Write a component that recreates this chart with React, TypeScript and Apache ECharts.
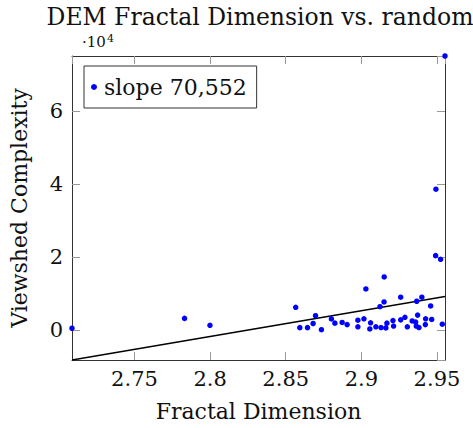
import React, { useEffect, useRef } from "react";
import * as echarts from "echarts";

// Fractal dimension of each DEM tile and its viewshed complexity
const fractalDim = [
  2.7087, 2.7831, 2.7999, 2.8566, 2.8593, 2.8644, 2.8681, 2.8697, 2.8736, 2.8802,
  2.8825, 2.8873, 2.8906, 2.8977, 2.8977, 2.9017, 2.903, 2.9056, 2.9061, 2.9096,
  2.9123, 2.913, 2.915, 2.9151, 2.9162, 2.9169, 2.9209, 2.9213, 2.926, 2.926,
  2.9288, 2.9304, 2.9336, 2.9359, 2.9363, 2.9366, 2.9372, 2.9381, 2.94, 2.9423,
  2.9425, 2.9458, 2.9465, 2.9491, 2.9493, 2.9524, 2.9535, 2.9553,
];
const complexity = [
  600, 3300, 1400, 6350, 770, 770, 1900, 4050, 200, 3150,
  2000, 2200, 1600, 2800, 1000, 3200, 11370, 400, 2100, 1000,
  6500, 800, 7800, 14660, 700, 2000, 2700, 1200, 9100, 2900,
  3600, 1000, 2600, 2300, 1200, 8000, 4200, 800, 9100, 1600,
  3200, 6700, 3000, 20500, 38700, 19500, 1700, 75200,
];

// Fitted regression line
const slope = 70552;
const intercept = -199204;
const legendLabel = "slope 70,552";

const titleText = "DEM Fractal Dimension vs. random";
const xLabel = "Fractal Dimension";
const yLabel = "Viewshed Complexity";
const yScale = 1e4;
const multiplierBase = "·10";
const multiplierExp = "4";

const FONT = "DejaVu Serif";

export default function App() {
  const ref = useRef<HTMLDivElement>(null);

  useEffect(() => {
    if (!ref.current) return;
    const chart = echarts.init(ref.current, undefined, { renderer: "svg" });

    const xMin = Math.min(...fractalDim);
    const xMax = Math.max(...fractalDim);
    const lineAt = (x: number) => slope * x + intercept;
    const yMin = Math.min(lineAt(xMin), ...complexity);
    const yMax = Math.max(lineAt(xMax), ...complexity);

    const points = fractalDim.map((x, i) => [x, complexity[i]]);
    const fitLine = [
      [xMin, lineAt(xMin)],
      [xMax, lineAt(xMax)],
    ];

    const frame = { show: true, onZero: false, lineStyle: { color: "#333", width: 1 } };
    const tick = { show: true, inside: true, length: 8, lineStyle: { color: "#999", width: 1 } };
    const txt = { fontFamily: FONT, fontSize: 21, color: "#111" };

    chart.setOption({
      animation: false,
      backgroundColor: "#fff",
      title: {
        text: titleText,
        left: 255,
        top: 2,
        textAlign: "center",
        textStyle: { ...txt, fontWeight: "normal", fontSize: 23.5, lineHeight: 20 },
      },
      legend: {
        data: [{ name: legendLabel, icon: "circle" }],
        left: 84,
        top: 66,
        orient: "vertical",
        itemWidth: 6,
        itemHeight: 6,
        padding: [10, 10, 10, 7],
        borderColor: "#333",
        borderWidth: 1,
        backgroundColor: "#fff",
        textStyle: { ...txt, fontSize: 22, padding: [0, 0, 0, 2] },
      },
      grid: { left: 72, right: 28, top: 56, bottom: 68 },
      xAxis: [
        {
          type: "value",
          min: xMin,
          max: xMax,
          splitNumber: 5,
          axisLine: frame,
          axisTick: tick,
          splitLine: { show: false },
          axisLabel: {
            ...txt,
            margin: 8,
            showMinLabel: false,
            showMaxLabel: false,
            formatter: (v: number) => String(Math.round(v * 100) / 100),
          },
          name: xLabel,
          nameLocation: "middle",
          nameGap: 40,
          nameTextStyle: { ...txt, fontSize: 22, verticalAlign: "top" },
        },
        {
          type: "value",
          position: "top",
          min: xMin,
          max: xMax,
          splitNumber: 5,
          axisLine: frame,
          axisTick: tick,
          axisLabel: { show: false },
          splitLine: { show: false },
        },
      ],
      yAxis: [
        {
          type: "value",
          min: yMin,
          max: yMax,
          splitNumber: 4,
          axisLine: frame,
          axisTick: tick,
          splitLine: { show: false },
          axisLabel: {
            ...txt,
            margin: 9,
            showMinLabel: false,
            showMaxLabel: false,
            formatter: (v: number) => String(Math.round(v / yScale)),
          },
          name: yLabel,
          nameLocation: "middle",
          nameRotate: 90,
          nameGap: 42,
          nameTextStyle: { ...txt, fontSize: 22 },
        },
        {
          type: "value",
          position: "right",
          min: yMin,
          max: yMax,
          splitNumber: 4,
          axisLine: frame,
          axisTick: tick,
          axisLabel: { show: false },
          splitLine: { show: false },
        },
      ],
      graphic: [
        {
          // axis multiplier, ·10⁴
          type: "text",
          left: 82,
          top: 34.5,
          style: { text: multiplierBase, font: `15px "${FONT}"`, fill: "#111" },
        },
        {
          type: "text",
          left: 107,
          top: 32.5,
          style: { text: multiplierExp, font: `11px "${FONT}"`, fill: "#111" },
        },
      ],
      series: [
        {
          name: "fit",
          type: "line",
          data: fitLine,
          showSymbol: false,
          symbol: "none",
          lineStyle: { color: "#000", width: 1.3 },
          silent: true,
          z: 2,
        },
        {
          name: legendLabel,
          type: "scatter",
          data: points,
          symbol: "circle",
          symbolSize: 5.5,
          itemStyle: { color: "#0000ff", opacity: 1 },
          clip: false,
          z: 3,
        },
      ],
    });

    return () => chart.dispose();
  }, []);

  return (
    <div
      ref={ref}
      style={{ position: "fixed", left: 0, top: 0, width: 473, height: 428 }}
    />
  );
}
